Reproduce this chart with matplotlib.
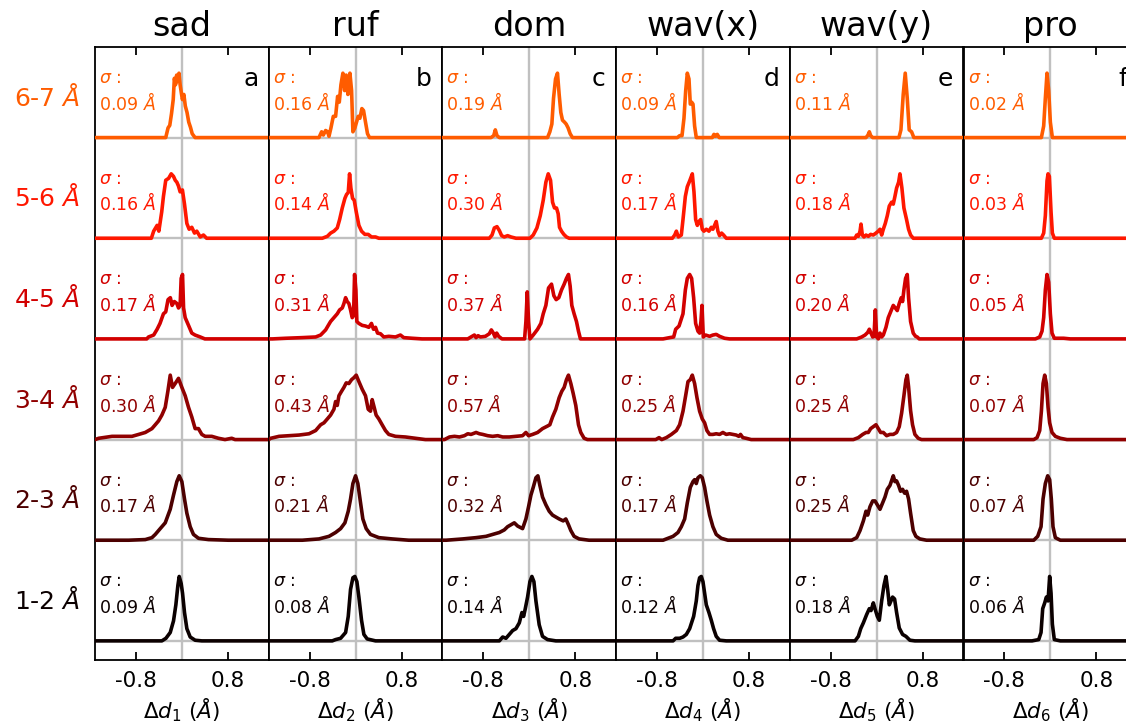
import numpy as np
import matplotlib
matplotlib.use("Agg")
import matplotlib.pyplot as plt
from matplotlib import cm
from matplotlib.transforms import blended_transform_factory

plt.rcParams['axes.unicode_minus'] = False
plt.rcParams['font.family'] = ['DejaVu Sans']

# ---------------- data ----------------
columns = ['sad', 'ruf', 'dom', 'wav(x)', 'wav(y)', 'pro']
letters = ['a', 'b', 'c', 'd', 'e', 'f']
row_labels = ['1-2', '2-3', '3-4', '4-5', '5-6', '6-7']   # bottom -> top
xtick_vals = [-0.8, 0.8]
xtick_labels = ['-0.8', '0.8']

sigma_sad = [0.09, 0.17, 0.30, 0.17, 0.16, 0.09]
sigma_ruf = [0.08, 0.21, 0.43, 0.31, 0.14, 0.16]
sigma_dom = [0.14, 0.32, 0.57, 0.37, 0.30, 0.19]
sigma_wavx = [0.12, 0.17, 0.25, 0.16, 0.17, 0.09]
sigma_wavy = [0.18, 0.25, 0.25, 0.20, 0.18, 0.11]
sigma_pro = [0.06, 0.07, 0.07, 0.05, 0.03, 0.02]

# normalised densities (peak = 1), rows bottom (1-2) -> top (6-7)
sad_x = [
    [-0.347, -0.277, -0.202, -0.145, -0.104, -0.069, -0.046, -0.012, 0.012, 0.046, 0.087, 0.145, 0.231, 0.347],
    [-0.925, -0.636, -0.52, -0.462, -0.376, -0.289, -0.202, -0.145, -0.087, -0.046, 0, 0.046, 0.087, 0.145, 0.202, 0.289, 0.462, 0.809],
    [-1.445, -1.214, -0.98, -0.867, -0.75, -0.636, -0.52, -0.462, -0.405, -0.347, -0.289, -0.243, -0.202, -0.162, -0.116, -0.058, 0, 0.058, 0.116, 0.173, 0.231, 0.289, 0.347, 0.405, 0.52, 0.636, 0.75, 0.867, 0.925],
    [-0.61, -0.58, -0.49, -0.43, -0.38, -0.32, -0.28, -0.24, -0.2, -0.17, -0.13, -0.087, -0.058, -0.03, -0.012, 0.012, 0.03, 0.058, 0.116, 0.173, 0.23, 0.32, 0.4],
    [-0.53, -0.49, -0.43, -0.40, -0.35, -0.32, -0.28, -0.23, -0.185, -0.145, -0.115, -0.087, -0.058, -0.03, 0.01, 0.046, 0.087, 0.127, 0.173, 0.22, 0.26, 0.32, 0.376, 0.43],
    [-0.28, -0.24, -0.21, -0.18, -0.15, -0.13, -0.11, -0.09, -0.08, -0.05, -0.03, -0.005, 0.01, 0.035, 0.06, 0.09, 0.12, 0.15, 0.18, 0.23],
]
sad_y = [
    [0, 0.04, 0.13, 0.31, 0.56, 0.86, 1.0, 0.89, 0.74, 0.44, 0.19, 0.06, 0.01, 0],
    [0, 0.01, 0.04, 0.09, 0.18, 0.27, 0.48, 0.7, 0.91, 1.0, 0.91, 0.64, 0.42, 0.21, 0.09, 0.03, 0.01, 0],
    [0.02, 0.05, 0.05, 0.05, 0.08, 0.11, 0.17, 0.23, 0.29, 0.38, 0.5, 0.75, 1.0, 0.81, 0.87, 0.95, 0.81, 0.68, 0.5, 0.35, 0.17, 0.17, 0.08, 0.05, 0.05, 0.02, 0, 0.02, 0],
    [0, 0.03, 0.06, 0.15, 0.24, 0.39, 0.42, 0.61, 0.64, 0.52, 0.58, 0.55, 0.48, 0.52, 0.94, 1.0, 0.48, 0.33, 0.21, 0.09, 0.06, 0.03, 0],
    [0, 0.11, 0.2, 0.11, 0.41, 0.65, 0.9, 0.93, 1.0, 0.96, 0.9, 0.87, 0.81, 0.72, 0.75, 0.53, 0.23, 0.14, 0.17, 0.08, 0.11, 0.02, 0.05, 0],
    [0, 0.15, 0.19, 0.37, 0.59, 0.92, 0.82, 0.97, 0.87, 1.0, 0.82, 0.67, 0.59, 0.67, 0.49, 0.39, 0.24, 0.16, 0.06, 0],
]

ruf_x = [
    [-0.405, -0.347, -0.26, -0.173, -0.127, -0.087, -0.046, -0.012, 0.023, 0.058, 0.104, 0.145, 0.202, 0.347],
    [-0.925, -0.636, -0.462, -0.347, -0.26, -0.185, -0.127, -0.087, -0.046, 0.0, 0.04, 0.087, 0.127, 0.185, 0.26, 0.405, 0.636, 0.925],
    [-1.474, -1.33, -1.156, -0.983, -0.809, -0.694, -0.607, -0.549, -0.491, -0.434, -0.376, -0.347, -0.318, -0.289, -0.243, -0.202, -0.162, -0.116, -0.069, -0.029, 0.012, 0.058, 0.116, 0.173, 0.22, 0.26, 0.289, 0.324, 0.358, 0.405, 0.462, 0.52, 0.578, 0.694, 0.867, 1.04, 1.214],
    [-1.445, -1.214, -0.925, -0.694, -0.607, -0.52, -0.474, -0.434, -0.376, -0.318, -0.277, -0.231, -0.202, -0.173, -0.145, -0.116, -0.087, -0.058, -0.035, -0.017, 0.006, 0.023, 0.058, 0.116, 0.173, 0.231, 0.277, 0.312, 0.347, 0.382, 0.434, 0.491, 0.578, 0.694, 0.78, 0.838, 0.983, 1.156],
    [-0.578, -0.49, -0.434, -0.376, -0.318, -0.277, -0.231, -0.185, -0.156, -0.127, -0.104, -0.081, -0.052, -0.023, 0.012, 0.058, 0.104, 0.162, 0.22, 0.277, 0.347, 0.405],
    [-0.636, -0.59, -0.56, -0.52, -0.486, -0.462, -0.428, -0.387, -0.347, -0.312, -0.283, -0.254, -0.22, -0.19, -0.162, -0.133, -0.098, -0.069, -0.046, -0.012, 0.017, 0.046, 0.075, 0.11, 0.139, 0.173, 0.208, 0.243],
]
ruf_y = [
    [0, 0.02, 0.04, 0.13, 0.38, 0.8, 0.98, 1.0, 0.92, 0.68, 0.32, 0.1, 0.03, 0],
    [0, 0.02, 0.06, 0.12, 0.18, 0.27, 0.45, 0.64, 0.88, 1.0, 0.88, 0.58, 0.33, 0.18, 0.09, 0.04, 0.02, 0],
    [0.02, 0.05, 0.06, 0.07, 0.09, 0.14, 0.23, 0.26, 0.32, 0.38, 0.47, 0.59, 0.53, 0.68, 0.75, 0.81, 0.88, 0.87, 0.93, 0.96, 1.0, 0.9, 0.78, 0.68, 0.47, 0.44, 0.62, 0.5, 0.38, 0.32, 0.23, 0.14, 0.08, 0.05, 0.04, 0.02, 0],
    [0, 0.01, 0.02, 0.03, 0.06, 0.14, 0.21, 0.27, 0.33, 0.39, 0.45, 0.48, 0.55, 0.64, 0.58, 0.55, 0.45, 0.33, 0.36, 1.0, 0.76, 0.27, 0.24, 0.21, 0.2, 0.18, 0.24, 0.15, 0.18, 0.09, 0.08, 0.03, 0.04, 0.03, 0.06, 0.02, 0.01, 0],
    [0, 0.03, 0.08, 0.11, 0.16, 0.29, 0.47, 0.62, 0.68, 0.71, 1.0, 0.78, 0.62, 0.59, 0.41, 0.2, 0.11, 0.06, 0.06, 0.02, 0.02, 0],
    [0, 0.09, 0.04, 0.11, 0.09, 0.02, 0.15, 0.33, 0.33, 0.64, 0.55, 0.82, 1.0, 0.73, 0.97, 0.67, 1.0, 0.73, 0.09, 0.15, 0.24, 0.33, 0.3, 0.45, 0.42, 0.24, 0.06, 0],
]

dom_x = [
    [-0.52, -0.462, -0.405, -0.347, -0.289, -0.231, -0.173, -0.127, -0.098, -0.069, -0.029, 0.012, 0.046, 0.081, 0.116, 0.173, 0.231, 0.318, 0.462],
    [-1.445, -1.156, -0.925, -0.751, -0.636, -0.52, -0.434, -0.376, -0.318, -0.26, -0.202, -0.116, -0.058, -0.012, 0.029, 0.069, 0.116, 0.15, 0.185, 0.231, 0.289, 0.347, 0.405, 0.462, 0.52, 0.59, 0.636, 0.682, 0.723, 0.78, 0.867, 1.04],
    [-1.474, -1.387, -1.3, -1.214, -1.127, -1.069, -1.012, -0.925, -0.867, -0.809, -0.723, -0.636, -0.549, -0.462, -0.347, -0.231, -0.116, -0.058, -0.012, 0.058, 0.145, 0.231, 0.318, 0.358, 0.405, 0.462, 0.52, 0.566, 0.607, 0.647, 0.682, 0.723, 0.763, 0.809, 0.856, 0.896, 0.954, 1.012],
    [-1.069, -0.994, -0.954, -0.925, -0.89, -0.85, -0.763, -0.694, -0.659, -0.624, -0.595, -0.566, -0.532, -0.474, -0.081, -0.058, -0.035, -0.012, 0.012, 0.069, 0.145, 0.202, 0.243, 0.289, 0.335, 0.387, 0.428, 0.468, 0.514, 0.561, 0.607, 0.647, 0.682, 0.711, 0.74, 0.78, 0.821, 0.856, 0.89],
    [-0.694, -0.647, -0.607, -0.561, -0.52, -0.48, -0.434, -0.376, -0.318, -0.231, 0.012, 0.069, 0.133, 0.191, 0.243, 0.289, 0.33, 0.37, 0.405, 0.439, 0.474, 0.503, 0.526, 0.561, 0.601, 0.647, 0.694],
    [-0.665, -0.618, -0.59, -0.561, -0.52, 0.318, 0.358, 0.393, 0.422, 0.457, 0.491, 0.52, 0.549, 0.578, 0.613, 0.642, 0.676, 0.711, 0.751],
]
dom_y = [
    [0, 0.06, 0.04, 0.1, 0.16, 0.19, 0.28, 0.44, 0.38, 0.5, 0.68, 0.92, 1.0, 0.92, 0.62, 0.25, 0.07, 0.02, 0],
    [0, 0.02, 0.04, 0.06, 0.09, 0.12, 0.16, 0.21, 0.24, 0.27, 0.22, 0.18, 0.33, 0.52, 0.7, 0.82, 0.97, 1.0, 0.85, 0.67, 0.55, 0.45, 0.39, 0.36, 0.33, 0.3, 0.33, 0.24, 0.15, 0.06, 0.02, 0],
    [0, 0.04, 0.05, 0.04, 0.06, 0.09, 0.08, 0.11, 0.09, 0.08, 0.06, 0.05, 0.06, 0.04, 0.04, 0.05, 0.06, 0.11, 0.06, 0.08, 0.11, 0.17, 0.21, 0.23, 0.35, 0.47, 0.65, 0.75, 0.81, 0.93, 1.0, 0.87, 0.72, 0.53, 0.23, 0.11, 0.02, 0],
    [0, 0.04, 0.06, 0.02, 0.05, 0.03, 0.04, 0.08, 0.14, 0.09, 0.03, 0.09, 0.04, 0, 0, 0.27, 0.73, 0.27, 0, 0.06, 0.15, 0.24, 0.39, 0.52, 0.79, 0.85, 0.67, 0.61, 0.64, 0.76, 0.85, 0.94, 1.0, 0.82, 0.52, 0.39, 0.27, 0.12, 0],
    [0, 0.05, 0.16, 0.18, 0.12, 0.04, 0.02, 0.04, 0.02, 0, 0, 0.05, 0.16, 0.35, 0.59, 0.87, 1.0, 0.9, 0.56, 0.47, 0.47, 0.38, 0.17, 0.11, 0.06, 0.02, 0],
    [0, 0.03, 0.12, 0.03, 0, 0, 0.09, 0.21, 0.61, 0.91, 1.0, 0.67, 0.39, 0.27, 0.24, 0.21, 0.15, 0.06, 0],
]

wavx_x = [
    [-0.52, -0.474, -0.405, -0.347, -0.289, -0.231, -0.162, -0.116, -0.087, -0.058, -0.029, 0.0, 0.029, 0.058, 0.104, 0.145, 0.185, 0.231, 0.289, 0.405],
    [-0.694, -0.607, -0.52, -0.434, -0.376, -0.318, -0.272, -0.22, -0.173, -0.145, -0.116, -0.087, -0.046, -0.012, 0.029, 0.069, 0.116, 0.173, 0.231, 0.318, 0.434],
    [-0.821, -0.763, -0.717, -0.636, -0.549, -0.462, -0.405, -0.347, -0.301, -0.26, -0.22, -0.185, -0.145, -0.104, -0.058, -0.012, 0.029, 0.069, 0.116, 0.173, 0.231, 0.289, 0.347, 0.405, 0.462, 0.52, 0.578, 0.624, 0.653, 0.694, 0.751, 0.838],
    [-0.694, -0.578, -0.509, -0.474, -0.416, -0.347, -0.306, -0.272, -0.231, -0.197, -0.162, -0.127, -0.087, -0.058, -0.035, -0.017, 0.006, 0.046, 0.116, 0.173, 0.231, 0.289, 0.376, 0.462],
    [-0.532, -0.491, -0.462, -0.428, -0.376, -0.347, -0.306, -0.272, -0.231, -0.185, -0.156, -0.127, -0.098, -0.069, -0.04, -0.012, 0.017, 0.058, 0.104, 0.145, 0.173, 0.202, 0.231, 0.26, 0.289, 0.324, 0.358, 0.405],
    [-0.445, -0.405, -0.364, -0.33, -0.3, -0.272, -0.243, -0.22, -0.197, -0.173, -0.145, -0.116, 0.162, 0.191, 0.22, 0.249, 0.283],
]
wavx_y = [
    [0, 0.04, 0.04, 0.06, 0.1, 0.19, 0.38, 0.62, 0.86, 0.98, 1.0, 0.92, 0.74, 0.56, 0.44, 0.32, 0.19, 0.07, 0.01, 0],
    [0, 0.03, 0.06, 0.12, 0.21, 0.33, 0.58, 0.82, 0.91, 0.94, 0.88, 0.97, 1.0, 0.97, 0.82, 0.61, 0.39, 0.21, 0.09, 0.03, 0],
    [0, 0.03, 0, 0.03, 0.08, 0.14, 0.23, 0.44, 0.68, 0.9, 0.93, 1.0, 0.87, 0.65, 0.44, 0.32, 0.26, 0.14, 0.08, 0.08, 0.09, 0.08, 0.11, 0.08, 0.09, 0.08, 0.07, 0.05, 0.08, 0.03, 0.02, 0],
    [0, 0.02, 0.03, 0.15, 0.2, 0.39, 0.76, 0.94, 1.0, 0.94, 0.64, 0.24, 0.12, 0.09, 0.27, 0.52, 0.03, 0.06, 0.04, 0.06, 0.07, 0.04, 0.01, 0],
    [0, 0.05, 0.11, 0.02, 0.05, 0.29, 0.65, 0.8, 0.89, 1.0, 0.72, 0.29, 0.2, 0.26, 0.29, 0.14, 0.11, 0.14, 0.11, 0.17, 0.14, 0.2, 0.26, 0.11, 0.04, 0.08, 0.05, 0],
    [0, 0.03, 0.03, 0.3, 0.73, 1.0, 0.91, 0.52, 0.55, 0.52, 0.18, 0, 0, 0.05, 0.02, 0.05, 0],
]

wavy_x = [
    [-0.376, -0.318, -0.277, -0.231, -0.173, -0.127, -0.098, -0.058, -0.029, 0.012, 0.046, 0.087, 0.127, 0.162, 0.191, 0.22, 0.249, 0.277, 0.312, 0.347, 0.393, 0.451, 0.509, 0.578, 0.665],
    [-0.434, -0.347, -0.289, -0.231, -0.185, -0.156, -0.116, -0.069, -0.029, 0.012, 0.058, 0.104, 0.145, 0.185, 0.231, 0.266, 0.289, 0.318, 0.347, 0.382, 0.416, 0.451, 0.486, 0.52, 0.555, 0.59, 0.636, 0.682, 0.751, 0.867],
    [-0.405, -0.318, -0.243, -0.185, -0.145, -0.104, -0.058, -0.012, 0.029, 0.069, 0.116, 0.173, 0.231, 0.289, 0.347, 0.393, 0.434, 0.474, 0.509, 0.532, 0.555, 0.59, 0.624, 0.665, 0.723, 0.78],
    [-0.347, -0.26, -0.202, -0.156, -0.127, -0.098, -0.069, -0.046, -0.023, 0.0, 0.029, 0.058, 0.087, 0.116, 0.162, 0.202, 0.243, 0.289, 0.324, 0.358, 0.393, 0.428, 0.451, 0.474, 0.503, 0.532, 0.555, 0.59, 0.636, 0.676, 0.705, 0.74],
    [-0.376, -0.347, -0.318, -0.289, -0.272, -0.249, -0.22, -0.185, -0.145, -0.104, -0.058, -0.012, 0.029, 0.058, 0.087, 0.116, 0.15, 0.185, 0.22, 0.26, 0.289, 0.318, 0.347, 0.382, 0.405, 0.439, 0.474, 0.52, 0.555, 0.59, 0.636],
    [-0.185, -0.15, -0.127, -0.104, -0.069, 0.387, 0.422, 0.462, 0.497, 0.532, 0.566, 0.607, 0.647],
]
wavy_y = [
    [0, 0.07, 0.19, 0.28, 0.41, 0.5, 0.47, 0.59, 0.5, 0.38, 0.32, 0.62, 0.86, 1.0, 0.8, 0.56, 0.62, 0.68, 0.65, 0.44, 0.2, 0.1, 0.07, 0.01, 0],
    [0, 0.04, 0.15, 0.3, 0.45, 0.39, 0.52, 0.61, 0.61, 0.55, 0.48, 0.58, 0.67, 0.79, 0.85, 0.94, 1.0, 0.91, 0.92, 0.85, 0.76, 0.79, 0.73, 0.76, 0.64, 0.42, 0.15, 0.06, 0.02, 0],
    [0, 0.03, 0.08, 0.11, 0.11, 0.17, 0.2, 0.23, 0.17, 0.11, 0.11, 0.06, 0.08, 0.08, 0.11, 0.2, 0.41, 0.68, 0.93, 1.0, 0.82, 0.45, 0.23, 0.08, 0.02, 0],
    [0, 0.03, 0.06, 0.1, 0.15, 0.09, 0.03, 0.04, 0.45, 0.03, 0, 0.09, 0.03, 0.06, 0.18, 0.33, 0.42, 0.52, 0.48, 0.44, 0.55, 0.64, 0.58, 0.76, 0.94, 1.0, 0.64, 0.27, 0.09, 0.04, 0.03, 0],
    [0, 0.05, 0.03, 0.11, 0.22, 0.05, 0.02, 0.05, 0.03, 0.06, 0.05, 0.08, 0.11, 0.14, 0.05, 0.14, 0.23, 0.35, 0.5, 0.56, 0.53, 0.65, 0.78, 0.87, 1.0, 0.78, 0.47, 0.29, 0.14, 0.05, 0],
    [0, 0.04, 0.09, 0.03, 0, 0, 0.12, 0.67, 1.0, 0.61, 0.12, 0.09, 0],
]

pro_x = [
    [-0.318, -0.202, -0.162, -0.133, -0.098, -0.069, -0.04, -0.012, 0.012, 0.035, 0.069, 0.173],
    [-0.289, -0.22, -0.162, -0.127, -0.087, -0.046, -0.012, 0.017, 0.046, 0.087, 0.173],
    [-0.289, -0.231, -0.185, -0.156, -0.127, -0.098, -0.069, -0.04, -0.012, 0.029, 0.087, 0.173, 0.289],
    [-0.26, -0.185, -0.145, -0.116, -0.087, -0.058, -0.029, 0.0, 0.029, 0.069, 0.231, 0.347],
    [-0.156, -0.116, -0.087, -0.058, -0.04, -0.017, 0.012, 0.035, 0.069],
    [-0.156, -0.116, -0.087, -0.058, -0.029, 0.0, 0.035],
]
pro_y = [
    [0, 0.02, 0.13, 0.5, 0.59, 0.68, 0.62, 1.0, 0.74, 0.26, 0.02, 0],
    [0, 0.06, 0.21, 0.64, 0.88, 1.0, 0.94, 0.64, 0.21, 0.04, 0],
    [0, 0.03, 0.14, 0.44, 0.87, 1.0, 0.87, 0.5, 0.26, 0.11, 0.05, 0.02, 0],
    [0, 0.03, 0.12, 0.33, 0.76, 1.0, 0.88, 0.39, 0.09, 0.01, 0.01, 0],
    [0, 0.08, 0.35, 0.89, 1.0, 0.96, 0.41, 0.08, 0],
    [0, 0.18, 0.61, 1.0, 0.73, 0.24, 0],
]

all_x = [sad_x, ruf_x, dom_x, wavx_x, wavy_x, pro_x]
all_y = [sad_y, ruf_y, dom_y, wavx_y, wavy_y, pro_y]
all_sigma = [sigma_sad, sigma_ruf, sigma_dom, sigma_wavx, sigma_wavy, sigma_pro]

# ---------------- figure ----------------
W, H = 1126, 727
fig = plt.figure(figsize=(W / 100, H / 100), dpi=100)
left0, colw, top, bot = 95.0, 173.7, 47.0, 660.0
XL = (-1.51, 1.51)
YL = (-0.19, 5.9)
amp = 0.64
colors = cm.hot(np.linspace(0, 0.5, 6))
gray = '#c0c0c0'

axes = []
for k in range(6):
    ax = fig.add_axes([(left0 + k * colw) / W, 1 - bot / H, colw / W, (bot - top) / H])
    axes.append(ax)
    ax.set_xlim(*XL)
    ax.set_ylim(*YL)
    ax.axvline(0, color=gray, lw=1.7, zorder=1)
    for r in range(6):
        ax.axhline(r, color=gray, lw=1.7, zorder=1)
        xs = np.concatenate([[XL[0]], all_x[k][r], [XL[1]]])
        ys = np.concatenate([[0], all_y[k][r], [0]]) * amp + r
        ax.plot(xs, ys, color=colors[r], lw=2.6, zorder=3, solid_joinstyle='round')
        ax.text(-1.44, r + 0.46, r'$\sigma$ :' + '\n' + f'{all_sigma[k][r]:.2f} ' + r'$\AA$',
                color=colors[r], fontsize=12.5, ha='left', va='center', linespacing=1.25)
    ax.text(1.33, 5.58, letters[k], fontsize=18, ha='right', va='center')
    ax.set_title(columns[k], fontsize=24, pad=8)
    ax.set_xticks(xtick_vals)
    ax.set_xticklabels(xtick_labels, fontsize=15.5)
    ax.set_yticks([])
    ax.tick_params(axis='x', direction='in', top=True, bottom=True, length=6, width=1.3, pad=8)
    ax.set_xlabel(r'$\Delta d_{%d}$ ($\AA$)' % (k + 1), fontsize=15.5, labelpad=4)
    for s in ax.spines.values():
        s.set_linewidth(1.3)

ax0 = axes[0]
tr = blended_transform_factory(ax0.transAxes, ax0.transData)
for r in range(6):
    ax0.text(-0.085, r + 0.4, row_labels[r] + r' $\AA$', transform=tr, color=colors[r],
             fontsize=18, ha='right', va='center')

fig.savefig('out.png', dpi=100)
